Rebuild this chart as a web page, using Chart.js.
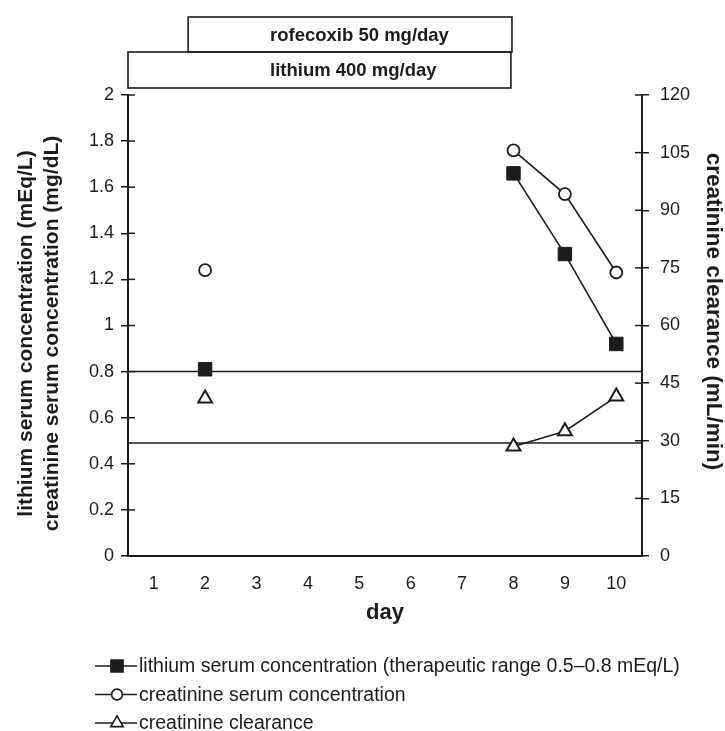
<!DOCTYPE html>
<html>
<head>
<meta charset="utf-8">
<script src="https://cdn.jsdelivr.net/npm/chart.js@4.4.1/dist/chart.umd.min.js"></script>
<style>
  html, body { margin: 0; padding: 0; background: #fff; }
</style>
</head>
<body>
<canvas id="chart" width="725" height="731"></canvas>
<script>
const days = [2, 8, 9, 10];
const lithium = [0.81, 1.66, 1.31, 0.92];
const creatinine = [1.24, 1.76, 1.57, 1.23];
const clearance = [41, 28.5, 32.5, 41.5];
const rangeLines = [0.8, 0.49];

const dayTicks = [1, 2, 3, 4, 5, 6, 7, 8, 9, 10];
const leftTicks = [0, 0.2, 0.4, 0.6, 0.8, 1, 1.2, 1.4, 1.6, 1.8, 2];
const rightTicks = [0, 15, 30, 45, 60, 75, 90, 105, 120];

const leftTitle = ['lithium serum concentration (mEq/L)', 'creatinine serum concentration (mg/dL)'];
const rightTitle = 'creatinine clearance (mL/min)';

const drugLabels = ['rofecoxib 50 mg/day', 'lithium 400 mg/day'];
const drugStart = [1.67, 0.5];
const drugEnd = [7.97, 7.95];

const legendLabels = [
    'lithium serum concentration (therapeutic range 0.5\u20130.8 mEq/L)',
    'creatinine serum concentration',
    'creatinine clearance'
];

const FONT = '"Liberation Sans", Arial, sans-serif';
const INK = '#1c1c1c';

Chart.defaults.font.family = FONT;
Chart.defaults.color = INK;

const toPoints = vals => days.map((d, i) => ({ x: d, y: vals[i] }));

// tick marks that cross the y axes (Chart.js only draws the outer half)
const innerTicks = {
    id: 'innerTicks',
    afterDraw(chart) {
        const ctx = chart.ctx;
        ctx.save();
        ctx.strokeStyle = INK;
        ctx.lineWidth = 1.5;
        ['y', 'y1'].forEach(id => {
            const s = chart.scales[id];
            const x0 = id === 'y' ? s.right : s.left;
            const dir = id === 'y' ? 1 : -1;
            s.ticks.forEach(t => {
                const py = s.getPixelForValue(t.value);
                ctx.beginPath();
                ctx.moveTo(x0, py);
                ctx.lineTo(x0 + dir * 7, py);
                ctx.stroke();
            });
        });
        ctx.restore();
    }
};

// rotated y axis titles, placed where the original has them
const axisTitles = {
    id: 'axisTitles',
    afterDraw(chart) {
        const ctx = chart.ctx;
        const area = chart.chartArea;
        const mid = (area.top + area.bottom) / 2;
        ctx.save();
        ctx.fillStyle = INK;
        ctx.textAlign = 'center';
        ctx.textBaseline = 'middle';
        ctx.font = 'bold 21px ' + FONT;
        leftTitle.forEach((line, i) => {
            ctx.save();
            ctx.translate(26 + i * 26, mid + 8);
            ctx.rotate(-Math.PI / 2);
            ctx.fillText(line, 0, 0);
            ctx.restore();
        });
        ctx.font = 'bold 22.5px ' + FONT;
        ctx.translate(713, mid - 14);
        ctx.rotate(Math.PI / 2);
        ctx.fillText(rightTitle, 0, 0);
        ctx.restore();
    }
};

// medication boxes above the plot
const drugBoxes = {
    id: 'drugBoxes',
    afterDraw(chart) {
        const ctx = chart.ctx;
        const x = chart.scales.x;
        const rows = [[17, 52], [52, 88]];
        ctx.save();
        ctx.strokeStyle = INK;
        ctx.lineWidth = 1.6;
        ctx.fillStyle = INK;
        ctx.font = 'bold 18.5px ' + FONT;
        ctx.textBaseline = 'middle';
        drugLabels.forEach((label, i) => {
            const x0 = x.getPixelForValue(drugStart[i]);
            const x1 = x.getPixelForValue(drugEnd[i]);
            const [y0, y1] = rows[i];
            ctx.strokeRect(x0, y0, x1 - x0, y1 - y0);
            ctx.fillText(label, 270, (y0 + y1) / 2 + 1);
        });
        ctx.restore();
    }
};

const bottomLegend = {
    id: 'bottomLegend',
    afterDraw(chart) {
        const ctx = chart.ctx;
        ctx.save();
        ctx.font = '19.5px ' + FONT;
        ctx.textBaseline = 'middle';
        legendLabels.forEach((label, i) => {
            const ds = chart.data.datasets[i];
            const y = 666 + i * 28.5;
            ctx.strokeStyle = INK;
            ctx.lineWidth = 1.6;
            ctx.beginPath();
            ctx.moveTo(95, y);
            ctx.lineTo(137, y);
            ctx.stroke();
            ctx.fillStyle = ds.pointBackgroundColor;
            Chart.helpers.drawPoint(ctx, {
                pointStyle: ds.pointStyle,
                radius: ds.pointRadius * 0.9,
                borderWidth: ds.pointBorderWidth,
                rotation: 0
            }, 117, y);
            ctx.fillStyle = INK;
            ctx.fillText(label, 139, y + 1);
        });
        ctx.restore();
    }
};

const rangeSets = rangeLines.map(v => ({
    data: [{ x: 0.5, y: v }, { x: 10.5, y: v }],
    borderColor: INK,
    borderWidth: 1.5,
    pointRadius: 0,
    yAxisID: 'y'
}));

new Chart(document.getElementById('chart'), {
    type: 'line',
    data: {
        datasets: [{
            label: legendLabels[0],
            data: toPoints(lithium),
            yAxisID: 'y',
            borderColor: INK,
            borderWidth: 1.6,
            pointStyle: 'rect',
            pointRadius: 9.5,
            pointBackgroundColor: INK,
            pointBorderColor: INK,
            pointBorderWidth: 1,
            spanGaps: 1
        }, {
            label: legendLabels[1],
            data: toPoints(creatinine),
            yAxisID: 'y',
            borderColor: INK,
            borderWidth: 1.6,
            pointStyle: 'circle',
            pointRadius: 6,
            pointBackgroundColor: '#fff',
            pointBorderColor: INK,
            pointBorderWidth: 1.8,
            spanGaps: 1
        }, {
            label: legendLabels[2],
            data: toPoints(clearance),
            yAxisID: 'y1',
            borderColor: INK,
            borderWidth: 1.6,
            pointStyle: 'triangle',
            pointRadius: 8,
            pointBackgroundColor: '#fff',
            pointBorderColor: INK,
            pointBorderWidth: 2,
            spanGaps: 1
        }, ...rangeSets]
    },
    options: {
        responsive: false,
        devicePixelRatio: 1,
        animation: false,
        layout: { padding: { top: 95, right: 0, bottom: 95, left: 0 } },
        plugins: {
            legend: { display: false },
            tooltip: { enabled: false }
        },
        scales: {
            x: {
                type: 'linear',
                min: 0.5,
                max: 10.5,
                afterBuildTicks: s => { s.ticks = dayTicks.map(v => ({ value: v })); },
                afterFit: s => { s.height = 80; },
                grid: { display: false, drawTicks: false },
                border: { color: INK, width: 2 },
                ticks: { padding: 17, font: { size: 18 }, color: INK },
                title: {
                    display: true,
                    text: 'day',
                    font: { size: 22, weight: 'bold' },
                    padding: { top: 0, bottom: 10 },
                    color: INK
                }
            },
            y: {
                position: 'left',
                min: 0,
                max: 2,
                afterBuildTicks: s => { s.ticks = leftTicks.map(v => ({ value: v })); },
                afterFit: s => { s.width = 128; },
                grid: { drawOnChartArea: false, tickLength: 7, color: INK, lineWidth: 1.5 },
                border: { color: INK, width: 2 },
                ticks: { padding: 7, font: { size: 18 }, color: INK, callback: v => String(+v.toFixed(1)) }
            },
            y1: {
                position: 'right',
                min: 0,
                max: 120,
                afterBuildTicks: s => { s.ticks = rightTicks.map(v => ({ value: v })); },
                afterFit: s => { s.width = 83; },
                grid: { drawOnChartArea: false, tickLength: 7, color: INK, lineWidth: 1.5 },
                border: { color: INK, width: 2 },
                ticks: { padding: 11, font: { size: 18 }, color: INK }
            }
        }
    },
    plugins: [innerTicks, axisTitles, drugBoxes, bottomLegend]
});
</script>
</body>
</html>
